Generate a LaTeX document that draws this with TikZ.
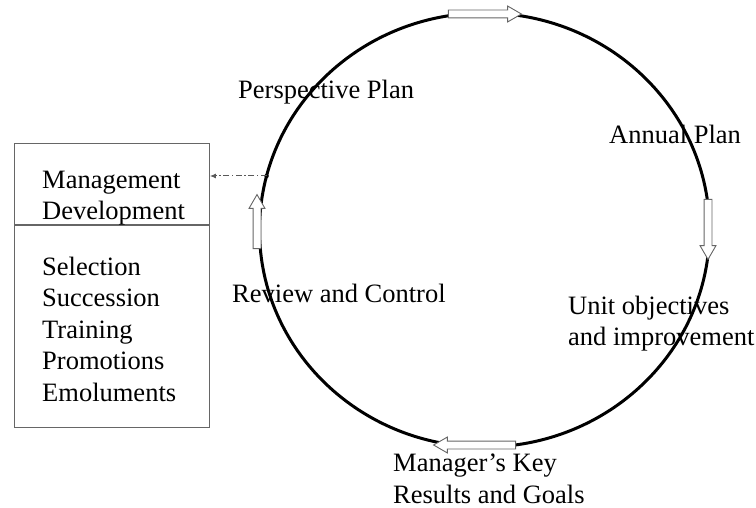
\documentclass[tikz,border=0pt]{standalone}
\usepackage{fontspec}
\setmainfont{Liberation Serif}
\usetikzlibrary{positioning,arrows.meta,shapes.arrows}

\begin{document}
\begin{tikzpicture}[x=1pt,y=-1pt,
    every node/.style={font=\fontsize{26.5}{31.5}\selectfont, inner sep=0pt},
    stagetext/.style={anchor=base west, align=left},
    hollowarrow/.style={single arrow, draw=black!60, fill=white, line width=0.9pt,
      inner xsep=0pt, inner ysep=3.5pt, single arrow head extend=4pt,
      single arrow tip angle=60, single arrow head indent=0pt},
    boxpart/.style={draw=black!60, line width=0.9pt, minimum width=195pt}]
    \useasboundingbox (0,0) rectangle (756,508);

    % Planning cycle
    \draw[line width=3pt] (484.5,230) ellipse [x radius=225pt, y radius=217pt];

    % Direction of the cycle
    \node[hollowarrow, minimum height=73pt] (toparrow) at (481.5,14) {};
    \node[hollowarrow, minimum height=60pt, rotate=-90] (rightarrow) at (708,226) {};
    \node[hollowarrow, minimum height=82pt, rotate=180] (bottomarrow) at (478,445) {};
    \node[hollowarrow, minimum height=54pt, rotate=90] (leftarrow) at (257,225) {};

    % Stages (base = last line)
    \node[stagetext] (persp) at (238,99) {Perspective Plan};
    \node[stagetext] (annual) at (609,144) {Annual Plan};
    \node[stagetext] (unit) at (568,345.5) {Unit objectives\\and improvement};
    \node[stagetext] (keyres) at (393,503) {Manager's Key\\Results and Goals};
    \node[stagetext] (review) at (232,302) {Review and Control};

    % Management development box
    \node[boxpart, minimum height=81pt, anchor=north west] (mgmtbox) at (14,143) {};
    \node[boxpart, minimum height=202pt, anchor=north] (dutybox) at (mgmtbox.south) {};
    \node[stagetext] (mgmt) at (42,219.5) {Management\\Development};
    \node[stagetext] (duties) at (42,401) {Selection\\Succession\\Training\\Promotions\\Emoluments};

    % Link from the cycle
    \coordinate (link) at (266.6,176);
    \fill (link) circle (2.2pt);
    \draw[black!65, line width=1pt, dash pattern=on 6pt off 2.5pt on 1.5pt off 2.5pt,
      -{Latex[length=6pt,width=5pt]}] (link) -- (link -| mgmtbox.east);
\end{tikzpicture}
\end{document}
